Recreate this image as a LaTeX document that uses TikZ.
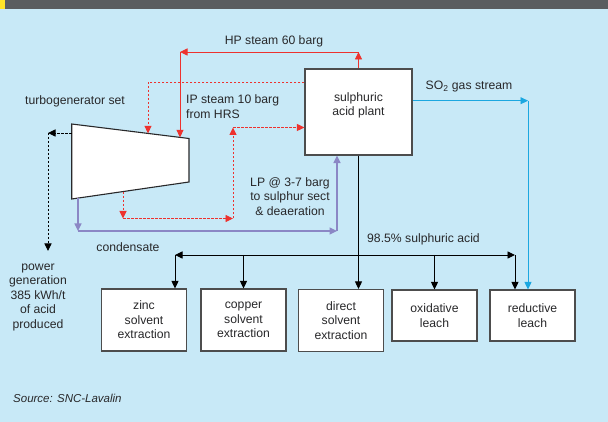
\documentclass[tikz,border=0pt]{standalone}
\usepackage{fontspec}
\setmainfont{Liberation Sans}
\usetikzlibrary{arrows.meta}
\definecolor{bgblue}{RGB}{200,233,247}
\definecolor{bargrey}{RGB}{90,93,96}
\definecolor{baryellow}{RGB}{255,228,40}
\definecolor{steamred}{RGB}{237,50,46}
\definecolor{condlilac}{RGB}{139,135,197}
\definecolor{gasblue}{RGB}{27,167,224}
\definecolor{boxgrey}{RGB}{77,77,77}
\definecolor{inkgrey}{RGB}{40,40,42}

\begin{document}
\begin{tikzpicture}[x=1pt,y=-1pt,>={Triangle[length=7.5pt,width=7pt]},
    txt/.style={font=\fontsize{12.2}{14.5}\selectfont,text=inkgrey,align=center,inner sep=0pt},
    unit/.style={txt,draw=boxgrey,line width=1.1pt,fill=white,minimum width=85pt},
    hp/.style={steamred,line width=0.9pt,->},
    ip/.style={steamred,line width=0.9pt,dash pattern=on 2.5pt off 1.5pt,->},
    cond/.style={condlilac,line width=1.3pt,->},
    pw/.style={black,line width=0.9pt,dash pattern=on 2.5pt off 1.5pt,->},
    gas/.style={gasblue,line width=0.9pt,->},
    acid/.style={black,line width=0.9pt}]
  \fill[bgblue] (0,0) rectangle (608,422);
  \fill[bargrey] (0,0) rectangle (608,9);
  \fill[baryellow] (0,0) rectangle (5,9);
  \useasboundingbox (0,0) rectangle (608,422);

  % turbogenerator
  \coordinate (tg-tl) at (71.7,124);
  \coordinate (tg-tr) at (189,138.5);
  \coordinate (tg-br) at (189,182);
  \coordinate (tg-bl) at (71.7,199);
  \draw[fill=white,line width=1.1pt,draw=inkgrey] (tg-tl) -- (tg-tr) -- (tg-br) -- (tg-bl) -- cycle;
  \node[txt,anchor=west] (tg-label) at (25,101) {turbogenerator set};
  \coordinate (hp-in) at (180,137.4);
  \coordinate (ip-in) at (148,133.4);
  \coordinate (lp-out) at (123,191.6);
  \coordinate (cond-out) at (78,198.1);
  \coordinate (pw-out) at (71.7,133);

  % acid plant
  \node[unit,minimum width=107pt,minimum height=86pt] (plant) at (358.5,112) {};
  \node[txt] (plant-name) at (358.5,105.5) {sulphuric\\acid plant};

  % end users
  \node[unit,minimum height=62pt] (zinc) at (144,320) {zinc\\solvent\\extraction};
  \node[unit,minimum height=62pt] (copper) at (243.5,320) {copper\\solvent\\extraction};
  \node[unit,minimum height=62pt] (direct) at (341,320.5) {direct\\solvent\\extraction};
  \node[unit,minimum height=51pt] (oxid) at (434.5,315.5) {oxidative\\leach};
  \node[unit,minimum height=51pt] (reduct) at (532.5,315.5) {reductive\\leach};

  % HP steam
  \coordinate (hp-top) at (358.5,52);
  \coordinate (hp-left) at (180,52);
  \draw[hp] (plant.north) -- (hp-top);
  \draw[hp] (hp-top) -- (hp-left);
  \draw[hp] (hp-left) -- (hp-in);
  \node[txt] (hp-label) at (274,41) {HP steam 60 barg};

  % IP steam
  \coordinate (ip-corner) at (148,82.3);
  \draw[ip] (plant.west |- ip-corner) -- (ip-corner) -- (ip-in);
  \node[txt,anchor=west,align=left] (ip-label) at (186,106.5) {IP steam 10 barg\\from HRS};

  % LP steam
  \coordinate (lp-drop) at (123,218.5);
  \coordinate (lp-rise) at (233,218.5);
  \coordinate (lp-top) at (233,127.5);
  \draw[ip] (lp-out) -- (lp-drop);
  \draw[ip] (lp-drop) -- (lp-rise);
  \draw[ip] (lp-rise) -- (lp-top);
  \draw[ip] (lp-top) -- (plant.west |- lp-top);
  \node[txt] (lp-label) at (290,196.5) {LP @ 3-7 barg\\to sulphur sect\\\& deaeration};

  % condensate
  \coordinate (cond-drop) at (78,231);
  \coordinate (cond-right) at (337,231);
  \draw[cond] (cond-out) -- (cond-drop);
  \draw[cond] (cond-drop) -- (cond-right);
  \draw[cond] (cond-right) -- (cond-right |- plant.south);
  \node[txt] (cond-label) at (128,247) {condensate};

  % power
  \coordinate (pw-corner) at (48,133);
  \coordinate (pw-end) at (48,251);
  \draw[pw] (pw-out) -- (pw-corner);
  \draw[pw] (pw-corner) -- (pw-end);
  \node[txt] (pw-label) at (38,297) {power\\generation\\385 kWh/t\\of acid\\produced};

  % SO2 gas
  \coordinate (so2-corner) at (528,100.7);
  \draw[gas] (plant.east |- so2-corner) -- (so2-corner);
  \draw[gas] (so2-corner) -- (so2-corner |- reduct.north);
  \node[txt] (so2-label) at (469,87) {SO\textsubscript{2} gas stream};

  % sulphuric acid
  \coordinate (acid-left) at (175,255);
  \coordinate (acid-right) at (515,255);
  \draw[acid,<->] (acid-left) -- (acid-right);
  \draw[acid,->] (acid-left) -- (zinc.north -| acid-left);
  \draw[acid,->] (copper.north |- acid-left) -- (copper.north);
  \draw[acid,->] (plant.south) -- (direct.north -| plant.south);
  \draw[acid,->] (oxid.north |- acid-left) -- (oxid.north);
  \draw[acid,->] (acid-right) -- (reduct.north -| acid-right);
  \node[txt,anchor=west] (acid-label) at (367,239) {98.5\% sulphuric acid};

  \node[txt,anchor=west,font=\fontsize{11.5}{14}\selectfont\itshape] (source) at (13,398) {Source: SNC-Lavalin};
\end{tikzpicture}
\end{document}
